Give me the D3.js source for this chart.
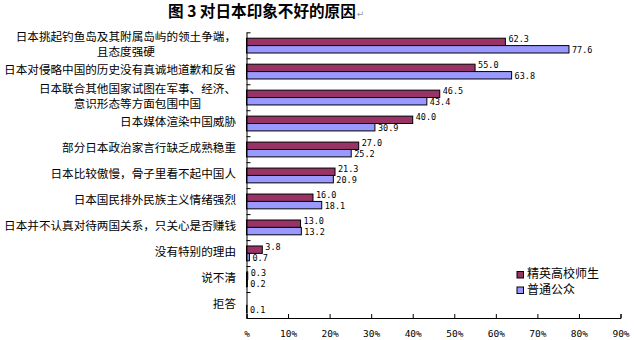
<!DOCTYPE html>
<html><head><meta charset="utf-8">
<script src="https://cdn.jsdelivr.net/npm/d3@7"></script>
<style>body{margin:0;background:#fff}svg{display:block}</style>
</head><body>
<script>
const categories = [
  ["日本挑起钓鱼岛及其附属岛屿的领土争端，","且态度强硬"],
  ["日本对侵略中国的历史没有真诚地道歉和反省"],
  ["日本联合其他国家试图在军事、经济、","意识形态等方面包围中国"],
  ["日本媒体渲染中国威胁"],
  ["部分日本政治家言行缺乏成熟稳重"],
  ["日本比较傲慢，骨子里看不起中国人"],
  ["日本国民排外民族主义情绪强烈"],
  ["日本并不认真对待两国关系，只关心是否赚钱"],
  ["没有特别的理由"],
  ["说不清"],
  ["拒答"]
];
const seriesNames = ["精英高校师生","普通公众"];
const elite  = [62.3, 55.0, 46.5, 40.0, 27.0, 21.3, 16.0, 13.0, 3.8, 0.3, null];
const public_ = [77.6, 63.8, 43.4, 30.9, 25.2, 20.9, 18.1, 13.2, 0.7, 0.2, 0.1];
const xTicks = [0,10,20,30,40,50,60,70,80,90];
const xTickLabels = ["%","10%","20%","30%","40%","50%","60%","70%","80%","90%"];
const colors = ["#993366","#9999FF"];

const W=634,H=340;
const svg=d3.select("body").append("svg").attr("width",W).attr("height",H);
const x=d3.scaleLinear().domain([0,90]).range([246.5,620.5]);
const y=d3.scaleBand().domain(d3.range(categories.length)).range([32.3,318]).paddingInner(0).paddingOuter(0);
const bw=y.bandwidth();
const barH=7.4, barOff=5.9;

// title
const title=svg.append("text").attr("x",168).attr("y",12.5).attr("dominant-baseline","middle").attr("font-family","Noto Sans CJK SC").attr("font-weight","bold").attr("font-size",15.6).attr("fill","#000").text("图 3 对日本印象不好的原因");
const tw=title.node().getComputedTextLength();
svg.append("text").attr("x",168+tw+1).attr("y",17).attr("font-family","DejaVu Sans").attr("font-size",9).attr("fill","#999").text("↵");

// bars
const data=[elite,public_];
data.forEach((vals,s)=>{
  svg.append("g").selectAll("rect").data(vals.map((v,i)=>({v,i})).filter(d=>d.v!=null))
   .join("rect")
   .attr("x",x(0)).attr("y",d=>y(d.i)+barOff+s*barH)
   .attr("width",d=>x(d.v)-x(0)).attr("height",barH)
   .attr("fill",colors[s]).attr("stroke","#000").attr("stroke-width",1);
  svg.append("g").selectAll("text").data(vals.map((v,i)=>({v,i})).filter(d=>d.v!=null))
   .join("text")
   .attr("x",d=>x(d.v)+3).attr("y",d=>y(d.i)+barOff+s*barH+barH/2+(s==0?-2:1.5))
   .attr("dominant-baseline","middle")
   .attr("font-family","DejaVu Sans Mono").attr("font-size",8.5).attr("fill","#000")
   .text(d=>d.v.toFixed(1));
});

// axes
const xAxis=d3.axisBottom(x).tickValues(xTicks).tickFormat((d,i)=>xTickLabels[i]).tickSize(-4).tickPadding(10);
const gx=svg.append("g").attr("transform",`translate(0,${318})`).call(xAxis);
gx.select(".domain").attr("stroke","#000");
gx.selectAll(".tick line").attr("stroke","#000");
gx.selectAll(".tick text").attr("font-family","DejaVu Sans Mono").attr("font-size",9.5).attr("fill","#000").attr("dy","0.9em");
const yTickScale=d3.scaleLinear().domain([0,categories.length]).range([32.3,318]);
const yAxis=d3.axisLeft(yTickScale).tickValues(d3.range(categories.length+1)).tickFormat("").tickSize(-4).tickSizeOuter(0);
const gy=svg.append("g").attr("transform",`translate(${x(0)},0)`).call(yAxis);
gy.select(".domain").attr("stroke","#000");
gy.selectAll(".tick line").attr("stroke","#000");

// category labels
categories.forEach((lines,i)=>{
  const g=svg.append("g");
  const cy=y(i)+bw/2;
  const texts=lines.map((t,k)=>g.append("text").attr("font-family","Noto Sans CJK SC").attr("font-size",11.6).attr("fill","#000")
     .attr("dominant-baseline","middle").attr("y",cy+(k-(lines.length-1)/2)*15).text(t));
  const widths=texts.map(t=>t.node().getComputedTextLength());
  const maxW=d3.max(widths);
  const center=236-maxW/2;
  texts.forEach(t=>t.attr("x",center).attr("text-anchor","middle"));
});

// legend
seriesNames.forEach((n,i)=>{
  const ly=275+i*15.5;
  svg.append("rect").attr("x",517).attr("y",ly-3.5).attr("width",6.5).attr("height",6.5).attr("fill",colors[i]).attr("stroke","#000").attr("stroke-width",1);
  svg.append("text").attr("x",527).attr("y",ly).attr("dominant-baseline","middle").attr("font-family","Noto Sans CJK SC").attr("font-size",12).attr("fill","#000").text(n);
});
</script>
</body></html>
